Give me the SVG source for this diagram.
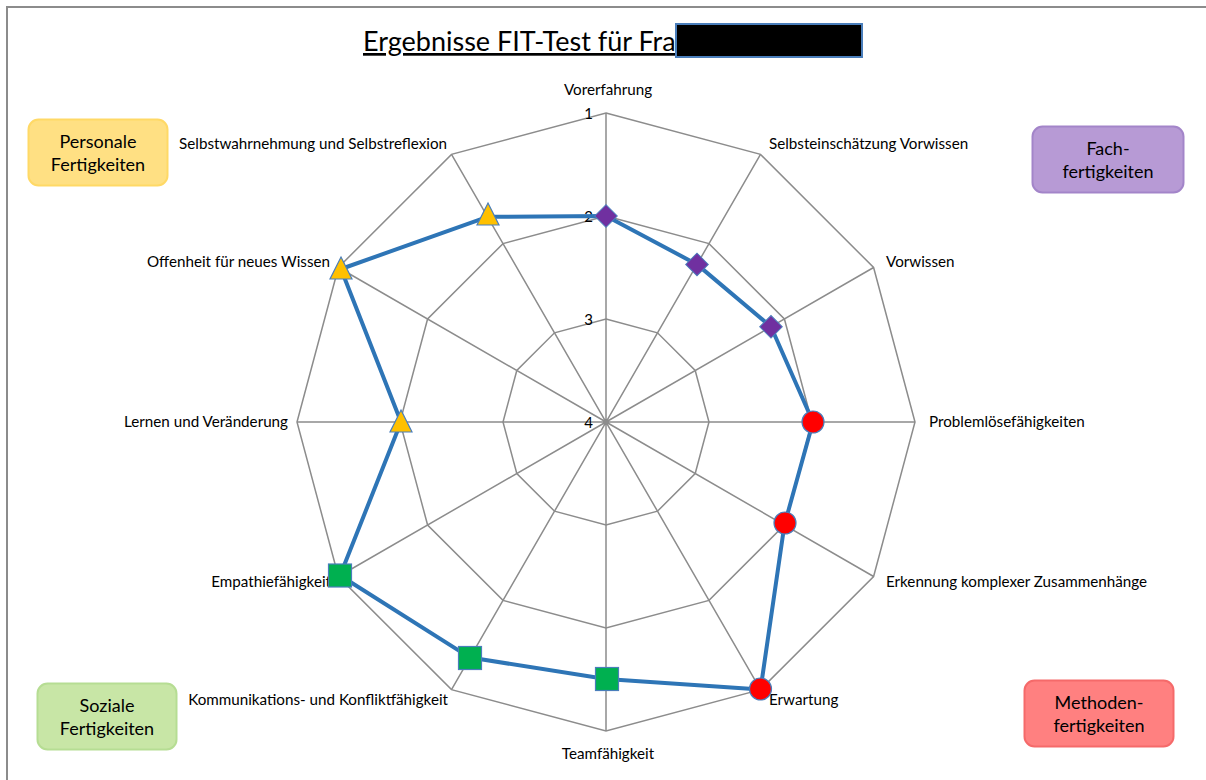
<svg xmlns="http://www.w3.org/2000/svg" width="1206" height="780" viewBox="0 0 1206 780">
<style>
.lbl{font-family:Lato,"Liberation Sans",sans-serif;font-size:15.2px;fill:#000}
.tick{font-family:Lato,"Liberation Sans",sans-serif;font-size:15px;fill:#000}
.box{font-family:Lato,"Liberation Sans",sans-serif;font-size:18px;fill:#000}
.grid{fill:none;stroke:#8c8c8c;stroke-width:1.5}
.tri{fill:#FFC000;stroke:#4A7EBB;stroke-width:1.2}
.dia{fill:#7030A0;stroke:#4A7EBB;stroke-width:1.2}
.cir{fill:#FF0000;stroke:#4A7EBB;stroke-width:1.2}
.sq{fill:#00B050;stroke:#4A7EBB;stroke-width:1.2}
</style>
<rect width="1206" height="780" fill="#fff"/>
<path d="M7,780 V7 H1206" fill="none" stroke="#8c8c8c" stroke-width="2"/>
<g id="title">
<text x="363" y="51" font-family="Lato,'Liberation Sans',sans-serif" font-size="27" text-decoration="underline">Ergebnisse FIT-Test für Fra</text>
<rect x="676" y="24" width="186" height="33" fill="#000" stroke="#4A7EBB" stroke-width="2"/>
</g>
<g id="grid">
<polygon class="grid" points="606,113 760.5,154.4 873.6,267.5 915,422 873.6,576.5 760.5,689.6 606,731 451.5,689.6 338.4,576.5 297,422 338.4,267.5 451.5,154.4"/>
<polygon class="grid" points="606,216 709,243.6 784.4,319 812,422 784.4,525 709,600.4 606,628 503,600.4 427.6,525 400,422 427.6,319 503,243.6"/>
<polygon class="grid" points="606,319 657.5,332.8 695.2,370.5 709,422 695.2,473.5 657.5,511.2 606,525 554.5,511.2 516.8,473.5 503,422 516.8,370.5 554.5,332.8"/>
<path class="grid" d="M606,422 L606,113 M606,422 L760.5,154.4 M606,422 L873.6,267.5 M606,422 L915,422 M606,422 L873.6,576.5 M606,422 L760.5,689.6 M606,422 L606,731 M606,422 L451.5,689.6 M606,422 L338.4,576.5 M606,422 L297,422 M606,422 L338.4,267.5 M606,422 L451.5,154.4"/>
<text class="tick" x="593" y="119" text-anchor="end">1</text>
<text class="tick" x="593" y="222" text-anchor="end">2</text>
<text class="tick" x="593" y="325" text-anchor="end">3</text>
<text class="tick" x="593" y="428" text-anchor="end">4</text>
</g>
<g id="axis-labels">
<text class="lbl" x="608" y="95" text-anchor="middle">Vorerfahrung</text>
<text class="lbl" x="769" y="149">Selbsteinschätzung Vorwissen</text>
<text class="lbl" x="886" y="267">Vorwissen</text>
<text class="lbl" x="929" y="427">Problemlösefähigkeiten</text>
<text class="lbl" x="886" y="587">Erkennung komplexer Zusammenhänge</text>
<text class="lbl" x="769" y="705">Erwartung</text>
<text class="lbl" x="608" y="759" text-anchor="middle">Teamfähigkeit</text>
<text class="lbl" x="448" y="705" text-anchor="end">Kommunikations- und Konfliktfähigkeit</text>
<text class="lbl" x="331" y="587" text-anchor="end">Empathiefähigkeit</text>
<text class="lbl" x="288" y="427" text-anchor="end">Lernen und Veränderung</text>
<text class="lbl" x="330" y="267" text-anchor="end">Offenheit für neues Wissen</text>
<text class="lbl" x="447" y="149" text-anchor="end">Selbstwahrnehmung und Selbstreflexion</text>
</g>
<g id="connectors">
<polygon points="606,216 697,264.4 771,326.8 813,422 784.4,525 760.5,689.6 606,679 470,657.6 340.1,575.5 401,422 341,269 487.5,216.8" fill="none" stroke="#2E75B6" stroke-width="4" stroke-linejoin="round"/>
</g>
<g id="markers">
<g id="m-vorerfahrung"><rect class="dia" x="-10" y="-10" width="20" height="20" transform="translate(606,216) rotate(45) scale(0.8)"/></g>
<g id="m-selbsteinschaetzung"><rect class="dia" x="-10" y="-10" width="20" height="20" transform="translate(697,264.4) rotate(45) scale(0.8)"/></g>
<g id="m-vorwissen"><rect class="dia" x="-10" y="-10" width="20" height="20" transform="translate(771,326.8) rotate(45) scale(0.8)"/></g>
<g id="m-problemloese"><circle class="cir" cx="813" cy="422" r="11"/></g>
<g id="m-erkennung"><circle class="cir" cx="785" cy="523" r="11"/></g>
<g id="m-erwartung"><circle class="cir" cx="760.5" cy="689" r="11"/></g>
<g id="m-team"><rect class="sq" x="595.5" y="667.5" width="23" height="23"/></g>
<g id="m-kommunikation"><rect class="sq" x="458.5" y="646.5" width="23" height="23"/></g>
<g id="m-empathie"><rect class="sq" x="328.5" y="564" width="23" height="23"/></g>
<g id="m-lernen"><polygon class="tri" points="401,410 412,432 390,432"/></g>
<g id="m-offenheit"><polygon class="tri" points="341,257 352,279 330,279"/></g>
<g id="m-selbstwahrnehmung"><polygon class="tri" points="488,203 499,225 477,225"/></g>
</g>
<g id="box-personale">
<rect x="28.5" y="119.5" width="139" height="66" rx="10" fill="#FFE083" stroke="#FFD966" stroke-width="2"/>
<text class="box" x="98" y="148" text-anchor="middle">Personale</text>
<text class="box" x="98" y="171" text-anchor="middle">Fertigkeiten</text>
</g>
<g id="box-fach">
<rect x="1032.5" y="126.5" width="151" height="66" rx="10" fill="#B79AD5" stroke="#A385C9" stroke-width="2"/>
<text class="box" x="1108" y="155" text-anchor="middle">Fach-</text>
<text class="box" x="1108" y="178" text-anchor="middle">fertigkeiten</text>
</g>
<g id="box-soziale">
<rect x="37.5" y="683.5" width="139" height="66" rx="10" fill="#C8E6A6" stroke="#B6DD93" stroke-width="2"/>
<text class="box" x="107" y="712" text-anchor="middle">Soziale</text>
<text class="box" x="107" y="735" text-anchor="middle">Fertigkeiten</text>
</g>
<g id="box-methoden">
<rect x="1024.5" y="680.5" width="149" height="66" rx="10" fill="#FF8080" stroke="#F56A6A" stroke-width="2"/>
<text class="box" x="1099" y="709" text-anchor="middle">Methoden-</text>
<text class="box" x="1099" y="732" text-anchor="middle">fertigkeiten</text>
</g>
</svg>
